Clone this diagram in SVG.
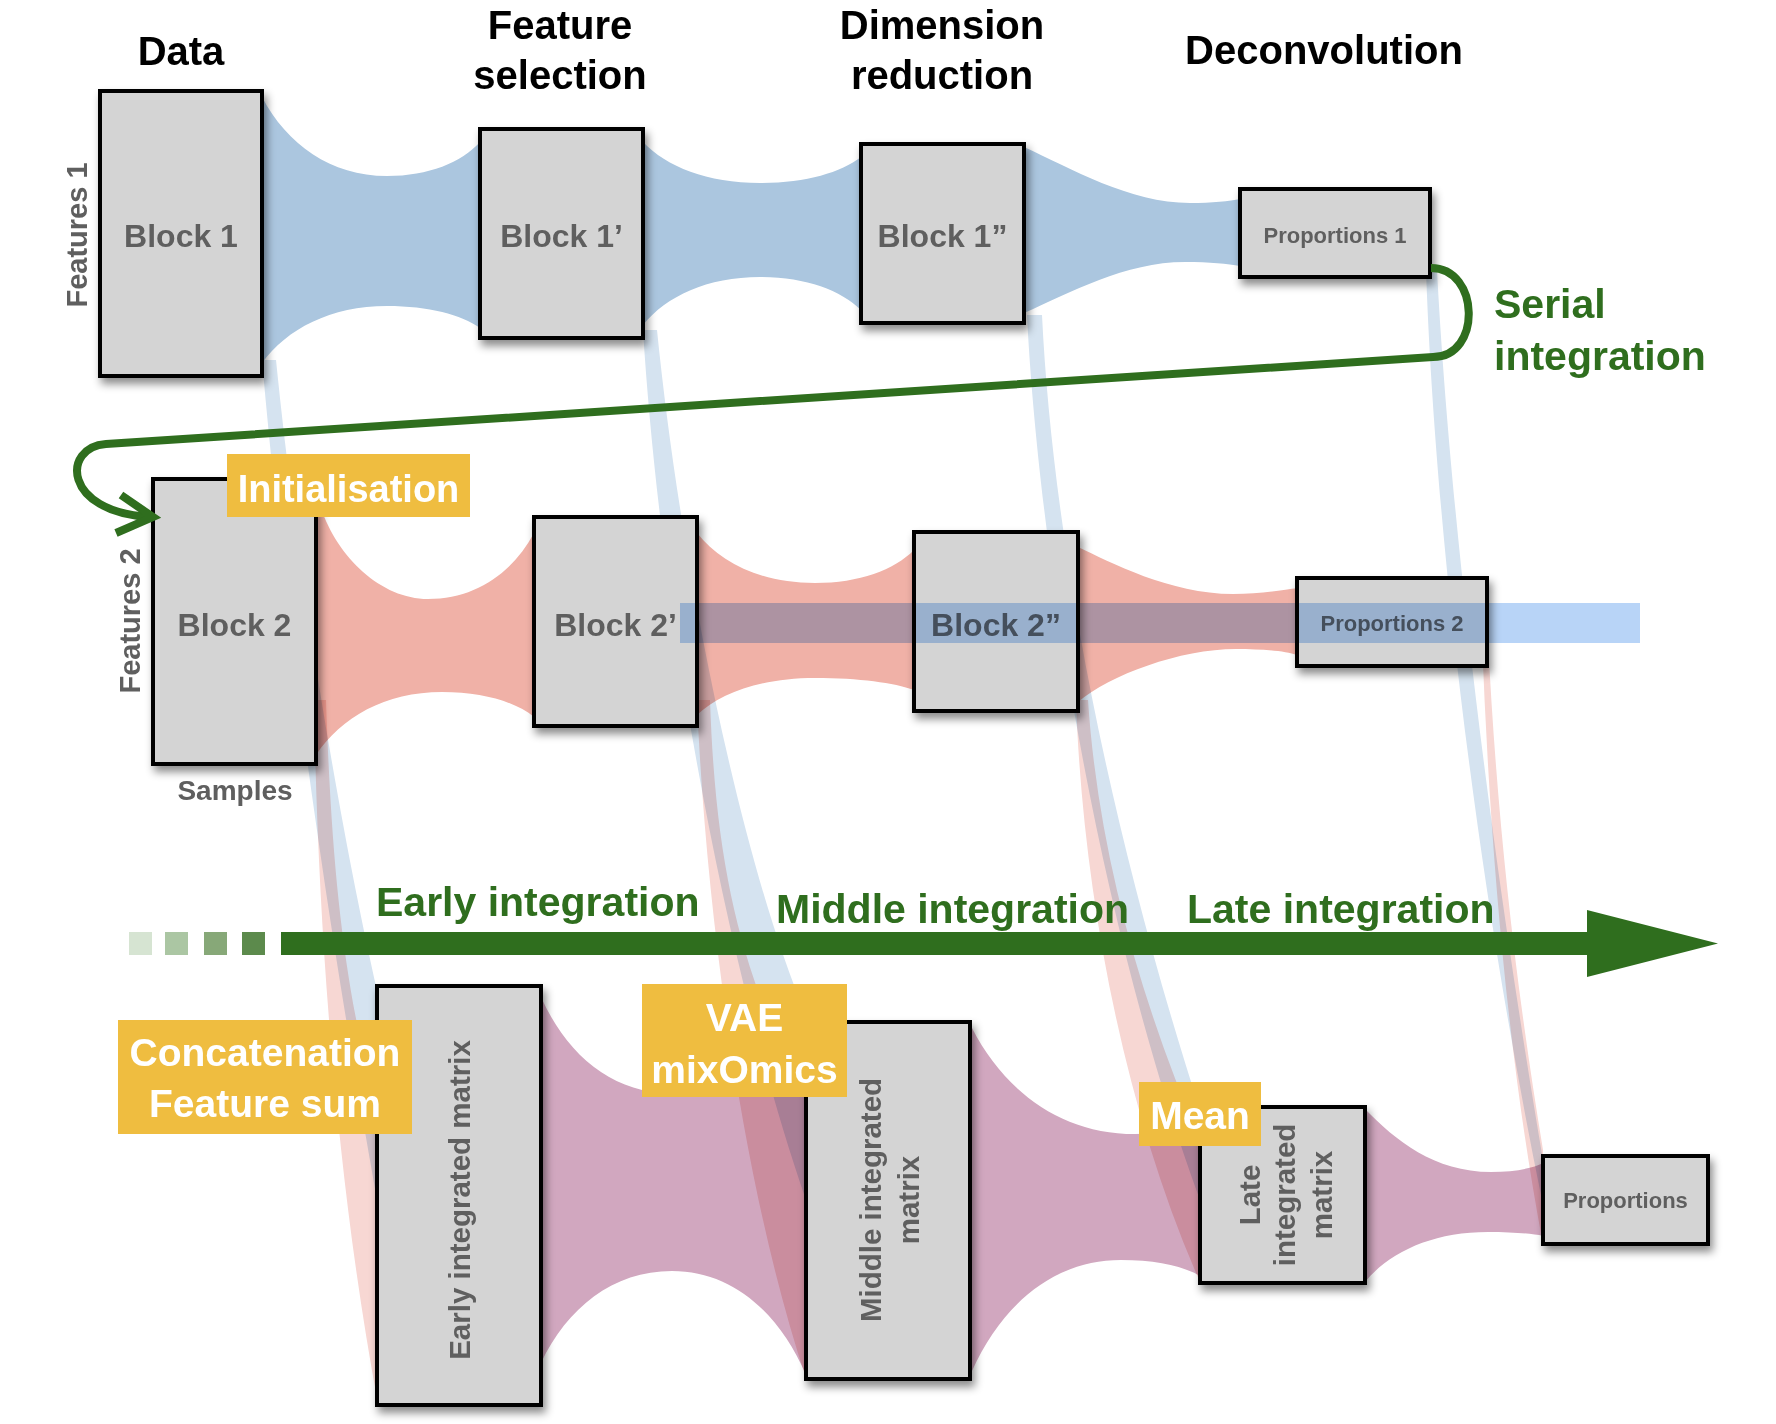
<svg xmlns="http://www.w3.org/2000/svg" width="1776" height="1424" viewBox="0 0 1776 1424">
<defs>
<style>
.hdr{font-family:"Liberation Sans",Arial,sans-serif;font-weight:bold;font-size:40px;fill:#000;text-anchor:middle}
.blk{fill:#d4d4d4;stroke:#000;stroke-width:4}
.bt{font-family:"Liberation Sans",Arial,sans-serif;font-weight:bold;fill:#5f5f5f;text-anchor:middle;font-size:32px}
.st{font-size:22px}
.vt{font-family:"Liberation Sans",Arial,sans-serif;font-weight:bold;fill:#5f5f5f;text-anchor:middle;font-size:29.5px}
.lab{fill:#efbd40}
.lt{font-family:"Liberation Sans",Arial,sans-serif;font-weight:bold;fill:#fff;text-anchor:middle;font-size:39px}
.gt{font-family:"Liberation Sans",Arial,sans-serif;font-weight:bold;fill:#2f6e1e;font-size:41px}
.fb{fill:#abc6df}
.fr{fill:#f0b1a7}
.fp{fill:#d1a7bf}
.rb{fill:#d5e3f0;mix-blend-mode:multiply}
.rr{fill:#f7d7d3;mix-blend-mode:multiply}
</style>
<filter id="sh" x="-20%" y="-20%" width="150%" height="150%">
<feDropShadow dx="3" dy="6" stdDeviation="4" flood-color="#000" flood-opacity="0.45"/>
</filter>
</defs>
<rect width="1776" height="1424" fill="#fff"/>

<g id="connectors">
<g id="flows">
<path class="fb" d="M252,97 L262,97 C287,144.4 330.75,176 387,176 C428.85,176 461.4,162.4 480,142 L490,142 L490,328 L480,328 C461.4,314.8 428.85,306 387,306 C330.75,306 287,328.8 262,363 L252,363 Z"/>
<path class="fb" d="M633,142 L643,142 C666.4,166.6 707.35,183 760,183 C805.45,183 840.8,172.6 861,157 L871,157 L871,310 L861,310 C840.8,290.2 805.45,277 760,277 C707.35,277 666.4,296.2 643,325 L633,325 Z"/>
<path class="fb" d="M1014,147 L1024,147 C1070,168 1130,203 1190,203 C1212,203 1230,201 1240,199 L1250,199 L1250,266 L1240,266 C1228,264 1210,262 1185,262 C1125,262 1070,293 1024,313 L1014,313 Z"/>
<path class="fr" d="M306,487 L316,487 C325,545 375,599 428,599 C475.7,599 512.8,572.6 534,533 L544,533 L544,717 L534,717 C515.6,702 483.4,692 442,692 C385.3,692 341.2,717.2 316,755 L306,755 Z"/>
<path class="fr" d="M687,533 L697,533 C720.6,563 761.9,583 815,583 C859.55,583 894.2,569.8 914,550 L924,550 L924,690 L914,690 C894.2,682.8 859.55,678 815,678 C761.9,678 720.6,692.8 697,715 L687,715 Z"/>
<path class="fr" d="M1068,547 L1078,547 C1110,562 1170,594 1233,594 C1260,594 1285,590 1297,588 L1307,588 L1307,655 L1297,655 C1285,651 1262,649 1236,649 C1180,649 1110,675 1078,702 L1068,702 Z"/>
<path class="fp" d="M531,997 L541,997 C566.8,1054.6 612,1093 670,1093 C731.2,1093 778.8,1068.6 806,1032 L816,1032 L816,1375 L806,1375 C779.2,1312.6 732.3,1271 672,1271 C613.05,1271 567.2,1307.8 541,1363 L531,1363 Z"/>
<path class="fp" d="M962,1028 L972,1028 C1004.6,1091.6 1061.65,1134 1135,1134 C1164.25,1134 1187,1129.2 1200,1122 L1210,1122 L1210,1276 L1200,1276 C1184.2,1266.4 1156.55,1260 1121,1260 C1053.95,1260 1001.8,1304.4 972,1371 L962,1371 Z"/>
<path class="fp" d="M1355,1109 L1365,1109 C1395,1140 1434.3,1172 1491,1172 C1514.4,1172 1532.6,1168.4 1543,1163 L1553,1163 L1553,1236 L1543,1236 C1532,1233.6 1512.75,1232 1488,1232 C1432.65,1232 1389.6,1252 1365,1282 L1355,1282 Z"/>
</g>
<g id="ribbons">
<path class="rb" d="M262,360 C285,620 320,880 377,1200 L377,990 C345,850 300,600 276,360 Z"/>
<path class="rr" d="M314,700 C318,950 340,1200 377,1398 L377,1110 C345,990 332,880 326,700 Z"/>
<path class="rb" d="M643,330 C660,600 720,950 806,1200 L806,1015 C740,860 680,560 657,330 Z"/>
<path class="rr" d="M697,700 C705,900 740,1180 806,1378 L806,1100 C745,980 716,880 710,700 Z"/>
<path class="rb" d="M1027,315 C1037,520 1090,900 1200,1200 L1200,1110 C1100,800 1052,520 1042,315 Z"/>
<path class="rr" d="M1076,700 C1082,880 1120,1100 1200,1282 L1200,1140 C1140,1000 1098,850 1088,700 Z"/>
<path class="rb" d="M1426,270 C1434,500 1470,850 1543,1205 L1543,1160 C1482,800 1448,480 1437,270 Z"/>
<path class="rr" d="M1482,640 C1490,850 1508,1060 1543,1244 L1543,1150 C1515,980 1497,820 1488,640 Z"/>
</g>
</g>

<g id="block1"><rect class="blk" x="100" y="91" width="162" height="285" filter="url(#sh)"/><text class="bt" x="181" y="247">Block 1</text></g>
<g id="block1p"><rect class="blk" x="480" y="129" width="163" height="209" filter="url(#sh)"/><text class="bt" x="561.5" y="247">Block 1’</text></g>
<g id="block1pp"><rect class="blk" x="861" y="144" width="163" height="179" filter="url(#sh)"/><text class="bt" x="942.5" y="247">Block 1”</text></g>
<g id="prop1"><rect class="blk" x="1240" y="189" width="190" height="88" filter="url(#sh)"/><text class="bt st" x="1335" y="243">Proportions 1</text></g>
<g id="block2"><rect class="blk" x="153" y="479" width="163" height="285" filter="url(#sh)"/><text class="bt" x="234.5" y="636">Block 2</text></g>
<g id="block2p"><rect class="blk" x="534" y="517" width="163" height="209" filter="url(#sh)"/><text class="bt" x="615.5" y="636">Block 2’</text></g>
<g id="block2pp"><rect class="blk" x="914" y="532" width="164" height="179" filter="url(#sh)"/><text class="bt" x="996" y="636">Block 2”</text></g>
<g id="prop2"><rect class="blk" x="1297" y="578" width="190" height="88" filter="url(#sh)"/><text class="bt st" x="1392" y="631">Proportions 2</text></g>
<g id="early"><rect class="blk" x="377" y="986" width="164" height="419" filter="url(#sh)"/><text class="vt" transform="translate(470,1200) rotate(-90)">Early integrated matrix</text></g>
<g id="middle"><rect class="blk" x="806" y="1022" width="164" height="357" filter="url(#sh)"/><text class="vt" transform="translate(881,1200) rotate(-90)">Middle integrated</text><text class="vt" transform="translate(919,1200) rotate(-90)">matrix</text></g>
<g id="late"><rect class="blk" x="1200" y="1107" width="165" height="176" filter="url(#sh)"/><text class="vt" transform="translate(1260,1195) rotate(-90)">Late</text><text class="vt" transform="translate(1295,1195) rotate(-90)">integrated</text><text class="vt" transform="translate(1332,1195) rotate(-90)">matrix</text></g>
<g id="proportions"><rect class="blk" x="1543" y="1156" width="165" height="88" filter="url(#sh)"/><text class="bt st" x="1625.5" y="1208">Proportions</text></g>

<rect id="band" x="680" y="603" width="960" height="40" fill="#b8d4f7" style="mix-blend-mode:multiply"/>

<g id="serial" fill="none" stroke="#2f6e1e" stroke-width="8">
<path d="M1431,268 C1480,268 1482,357 1433,357 L106,444 C62,447 62,512 150,517"/>
<polyline points="121,495 153,517 116,533"/>
</g>

<g id="labels">
<g id="initialisation"><rect class="lab" x="227" y="454" width="243" height="63"/><text class="lt" x="348.5" y="502" style="font-size:38px">Initialisation</text></g>
<g id="concat"><rect class="lab" x="118" y="1020" width="294" height="114"/><text class="lt" x="265" y="1066">Concatenation</text><text class="lt" x="265" y="1117">Feature sum</text></g>
<g id="vae"><rect class="lab" x="642" y="984" width="205" height="113"/><text class="lt" x="744.5" y="1031">VAE</text><text class="lt" x="744.5" y="1083">mixOmics</text></g>
<g id="mean"><rect class="lab" x="1139" y="1082" width="122" height="64"/><text class="lt" x="1200" y="1129">Mean</text></g>
</g>

<g id="timeline">
<rect x="129" y="932" width="23" height="23" fill="#d6e4d2"/>
<rect x="165" y="932" width="23" height="23" fill="#abc6a3"/>
<rect x="204" y="932" width="23" height="23" fill="#87a878"/>
<rect x="242" y="932" width="23" height="23" fill="#5c8a4c"/>
<polygon points="281,932 1587,932 1587,910 1718,943.5 1587,977 1587,955 281,955" fill="#2f6e1e"/>
<text class="gt" x="376" y="916">Early integration</text>
<text class="gt" x="776" y="923">Middle integration</text>
<text class="gt" x="1187" y="923">Late integration</text>
<text class="gt" x="1494" y="318">Serial</text>
<text class="gt" x="1494" y="370">integration</text>
</g>

<g id="headers">
<text class="hdr" x="181" y="65">Data</text>
<text class="hdr" x="560" y="39">Feature</text>
<text class="hdr" x="560" y="89">selection</text>
<text class="hdr" x="942" y="39">Dimension</text>
<text class="hdr" x="942" y="89">reduction</text>
<text class="hdr" x="1324" y="64">Deconvolution</text>
</g>
<g id="axis-labels">
<text class="vt" style="font-size:29px" transform="translate(87,235) rotate(-90)">Features 1</text>
<text class="vt" style="font-size:29px" transform="translate(140,621) rotate(-90)">Features 2</text>
<text class="vt" style="font-size:28px" x="235" y="800">Samples</text>
</g>
</svg>
